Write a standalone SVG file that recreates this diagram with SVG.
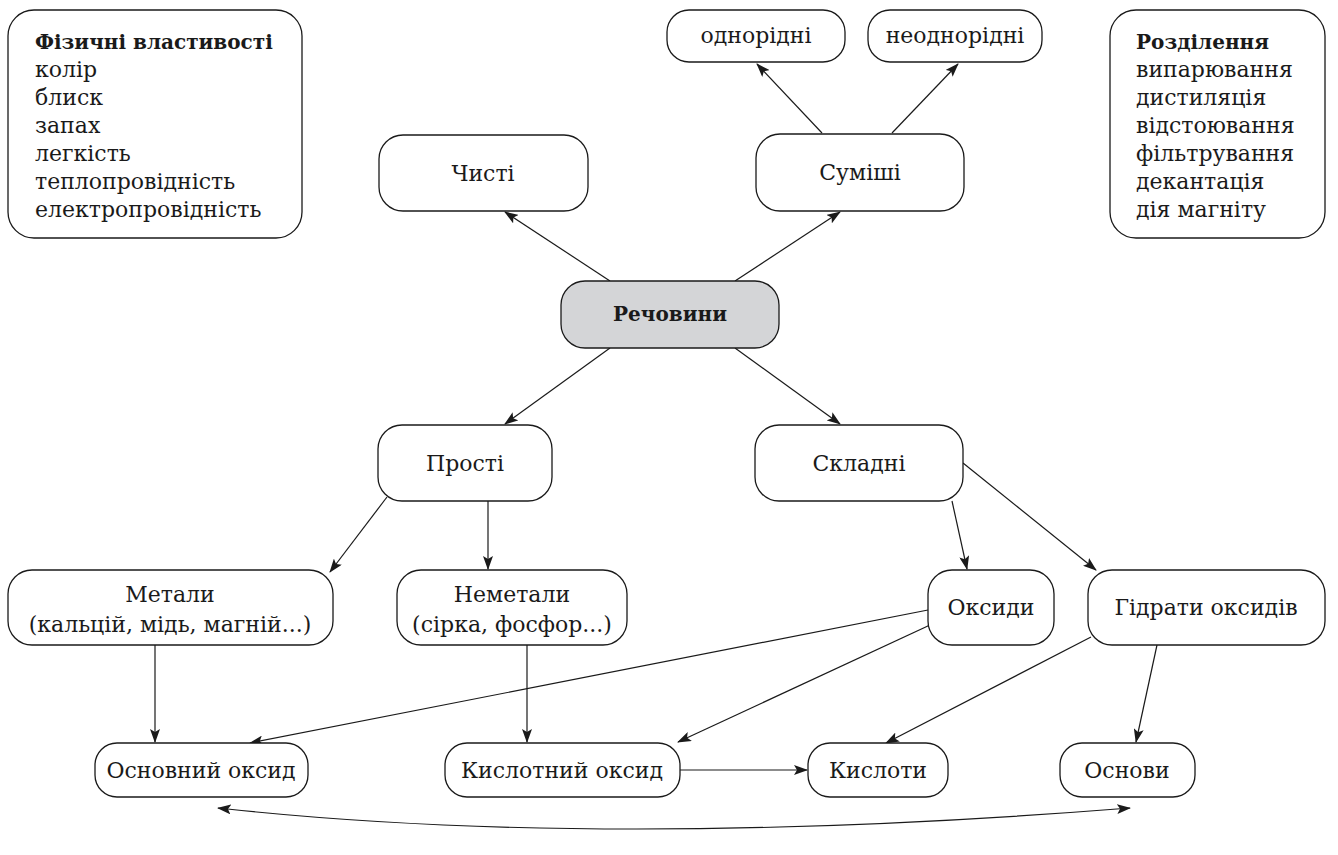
<svg xmlns="http://www.w3.org/2000/svg" width="1338" height="855" viewBox="0 0 1338 855">
<defs>
<marker id="ah" viewBox="0 0 14 10" refX="13" refY="5" markerWidth="14" markerHeight="10" markerUnits="userSpaceOnUse" orient="auto-start-reverse">
<path d="M0,0 L14,5 L0,10 L3,5 Z" fill="#1a1a1a"/>
</marker>
<style>
.box{fill:#fff;stroke:#1a1a1a;stroke-width:1.3}
.main{fill:#d4d5d7;stroke:#1a1a1a;stroke-width:1.3}
text{font-family:"DejaVu Serif","Liberation Serif",serif;font-size:22px;fill:#1a1a1a}
.c{text-anchor:middle}
.b{font-weight:bold;font-size:20px}
.ln{fill:none;stroke:#1a1a1a;stroke-width:1.2;marker-end:url(#ah)}
</style>
</defs>
<rect width="1338" height="855" fill="#fff"/>
<g id="connectors">
<line class="ln" x1="610" y1="281" x2="505" y2="212"/>
<line class="ln" x1="735" y1="281" x2="840" y2="212"/>
<line class="ln" x1="822" y1="133" x2="757" y2="64"/>
<line class="ln" x1="892" y1="133" x2="958" y2="64"/>
<line class="ln" x1="610" y1="348" x2="505" y2="424"/>
<line class="ln" x1="735" y1="348" x2="840" y2="424"/>
<line class="ln" x1="387" y1="497" x2="330" y2="572"/>
<line class="ln" x1="488" y1="501" x2="488" y2="569"/>
<line class="ln" x1="952" y1="501" x2="967" y2="569"/>
<line class="ln" x1="963" y1="463" x2="1096" y2="570"/>
<line class="ln" x1="155" y1="645" x2="155" y2="742"/>
<line class="ln" x1="527" y1="645" x2="527" y2="742"/>
<line class="ln" x1="928" y1="610" x2="250" y2="743"/>
<line class="ln" x1="930" y1="625" x2="678" y2="742"/>
<line class="ln" x1="1091" y1="637" x2="886" y2="743"/>
<line class="ln" x1="1157" y1="645" x2="1136" y2="742"/>
<line class="ln" x1="680" y1="770" x2="807" y2="770"/>
<path class="ln" d="M218,808 Q600,850 1130,808" style="marker-start:url(#ah)"/>
</g>
<g id="fizychni">
<rect class="box" x="8" y="10" width="294" height="228" rx="26"/>
<text class="b" x="35" y="49">Фізичні властивості</text>
<text x="35" y="77">колір</text>
<text x="35" y="105">блиск</text>
<text x="35" y="133">запах</text>
<text x="35" y="161">легкість</text>
<text x="35" y="189">теплопровідність</text>
<text x="35" y="217">електропровідність</text>
</g>
<g id="rozdilennia">
<rect class="box" x="1110" y="10" width="215" height="228" rx="26"/>
<text class="b" x="1136" y="49">Розділення</text>
<text x="1136" y="77">випарювання</text>
<text x="1136" y="105">дистиляція</text>
<text x="1136" y="133">відстоювання</text>
<text x="1136" y="161">фільтрування</text>
<text x="1136" y="189">декантація</text>
<text x="1136" y="217">дія магніту</text>
</g>
<g id="odnoridni">
<rect class="box" x="667" y="10" width="178" height="52" rx="22"/>
<text class="c" x="756" y="43">однорідні</text>
</g>
<g id="neodnoridni">
<rect class="box" x="868" y="10" width="174" height="52" rx="22"/>
<text class="c" x="955" y="43">неоднорідні</text>
</g>
<g id="chysti">
<rect class="box" x="379" y="135" width="209" height="76" rx="24"/>
<text class="c" x="483" y="181">Чисті</text>
</g>
<g id="sumishi">
<rect class="box" x="756" y="134" width="208" height="77" rx="24"/>
<text class="c" x="860" y="180">Суміші</text>
</g>
<g id="rechovyny">
<rect class="main" x="561" y="281" width="218" height="67" rx="24"/>
<text class="c b" x="670" y="321">Речовини</text>
</g>
<g id="prosti">
<rect class="box" x="378" y="425" width="174" height="76" rx="24"/>
<text class="c" x="465" y="471">Прості</text>
</g>
<g id="skladni">
<rect class="box" x="755" y="425" width="208" height="76" rx="24"/>
<text class="c" x="859" y="471">Складні</text>
</g>
<g id="metaly">
<rect class="box" x="8" y="570" width="325" height="75" rx="24"/>
<text class="c" x="170" y="602">Метали</text>
<text class="c" x="170" y="632">(кальцій, мідь, магній...)</text>
</g>
<g id="nemetaly">
<rect class="box" x="397" y="570" width="230" height="75" rx="24"/>
<text class="c" x="512" y="602">Неметали</text>
<text class="c" x="512" y="632">(сірка, фосфор...)</text>
</g>
<g id="oksydy">
<rect class="box" x="928" y="570" width="126" height="75" rx="24"/>
<text class="c" x="991" y="615">Оксиди</text>
</g>
<g id="hidraty">
<rect class="box" x="1088" y="570" width="237" height="75" rx="24"/>
<text class="c" x="1206" y="615">Гідрати оксидів</text>
</g>
<g id="osnovnyi">
<rect class="box" x="95" y="743" width="213" height="54" rx="22"/>
<text class="c" x="201" y="778">Основний оксид</text>
</g>
<g id="kyslotnyi">
<rect class="box" x="445" y="743" width="235" height="54" rx="22"/>
<text class="c" x="562" y="778">Кислотний оксид</text>
</g>
<g id="kysloty">
<rect class="box" x="808" y="743" width="140" height="54" rx="22"/>
<text class="c" x="878" y="778">Кислоти</text>
</g>
<g id="osnovy">
<rect class="box" x="1060" y="743" width="135" height="54" rx="22"/>
<text class="c" x="1127" y="778">Основи</text>
</g>
</svg>
